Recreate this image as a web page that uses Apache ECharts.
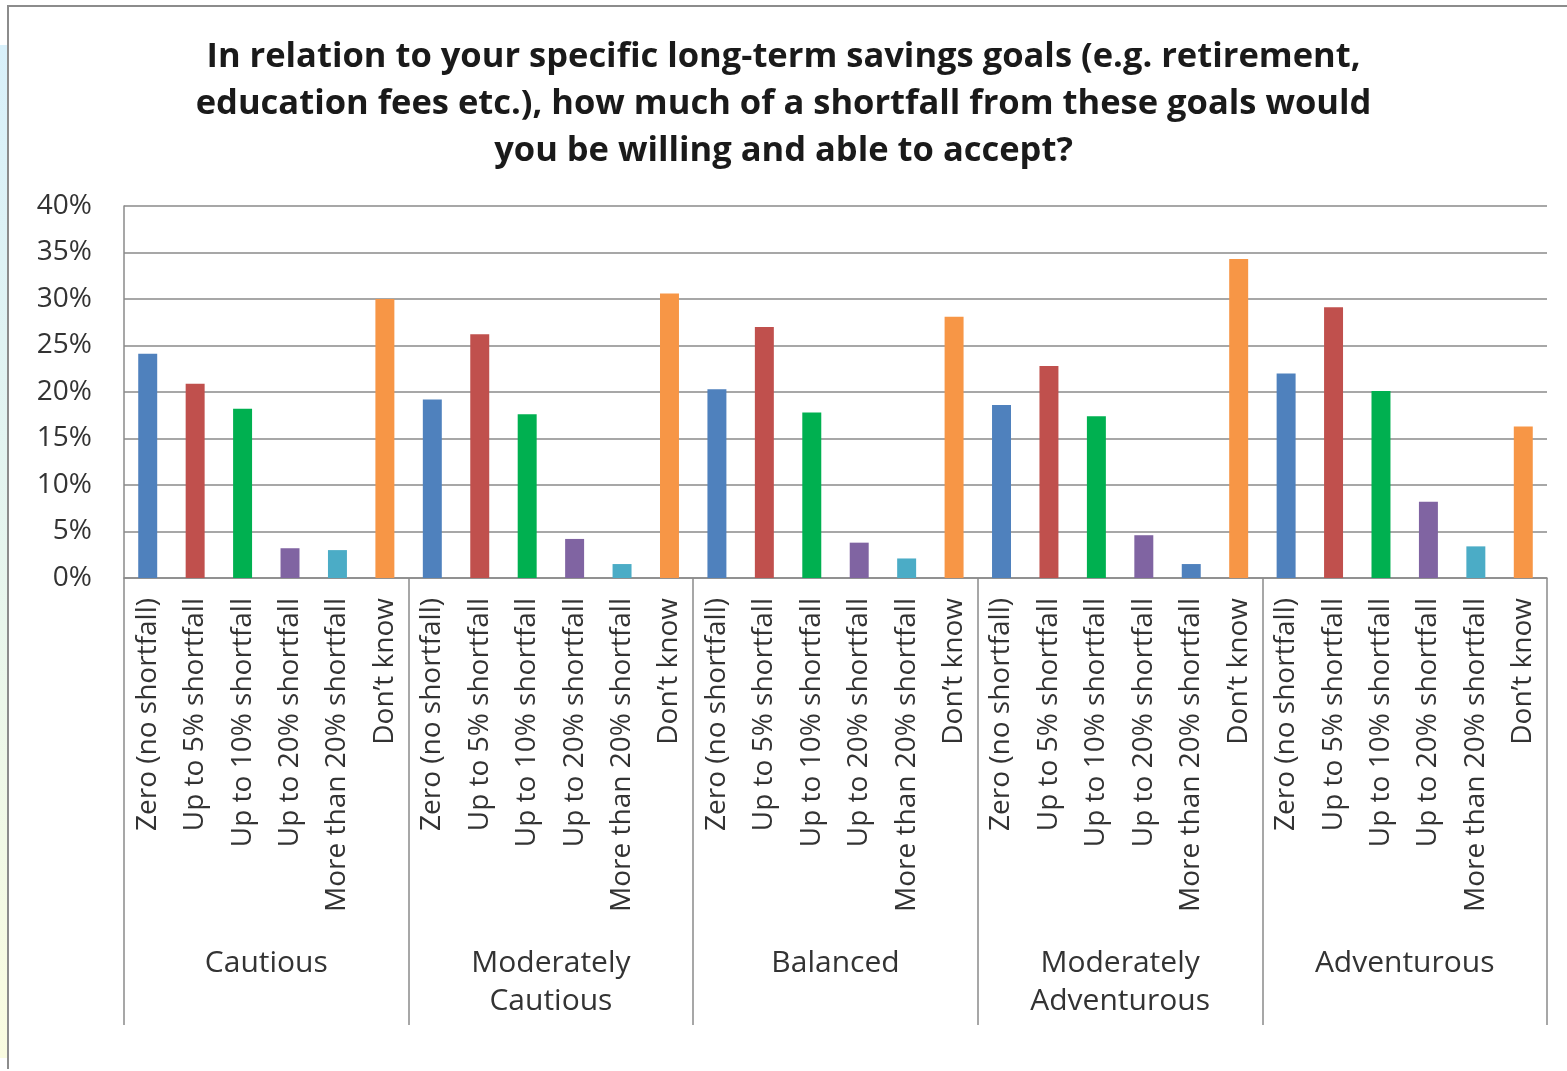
<!DOCTYPE html>
<html>
<head>
<meta charset="utf-8">
<title>Shortfall acceptance by risk profile</title>
<script src="https://cdn.jsdelivr.net/npm/echarts@6/dist/echarts.min.js"></script>
<style>
  html, body { margin: 0; padding: 0; background: #ffffff; }
  #chart { width: 1567px; height: 1071px; }
</style>
</head>
<body>
<div id="chart"></div>
<script>
// Risk profiles (outer category row)
const profiles = ['Cautious', 'Moderately\nCautious', 'Balanced', 'Moderately\nAdventurous', 'Adventurous'];

// Answer options (inner category row, repeated per profile)
const answers = [
  'Zero (no shortfall)',
  'Up to 5% shortfall',
  'Up to 10% shortfall',
  'Up to 20% shortfall',
  'More than 20% shortfall',
  'Don\u2019t know'
];

// Share of respondents (%) per profile, in the order of `answers`
const cautious        = [24.1, 20.9, 18.2, 3.2, 3.0, 30.0];
const modCautious     = [19.2, 26.2, 17.6, 4.2, 1.5, 30.6];
const balanced        = [20.3, 27.0, 17.8, 3.8, 2.1, 28.1];
const modAdventurous  = [18.6, 22.8, 17.4, 4.6, 1.5, 34.3];
const adventurous     = [22.0, 29.1, 20.1, 8.2, 3.4, 16.3];

// Y axis ticks
const yMin = 0, yMax = 40, yStep = 5;

const profileValues = [cautious, modCautious, balanced, modAdventurous, adventurous];

// Colours for the six answer options
const answerColors = ['#4F81BD', '#C0504D', '#00B050', '#8064A2', '#4BACC6', '#F79646'];

const categories = [];
const barData = [];
profileValues.forEach(function (vals, p) {
  vals.forEach(function (v, a) {
    categories.push(answers[a]);
    const item = { value: v, itemStyle: { color: answerColors[a] } };
    // this bar is drawn in the first series colour
    if (p === 3 && a === 4) item.itemStyle.color = '#4F81BD';
    barData.push(item);
  });
});

const chart = echarts.init(document.getElementById('chart'), null, { renderer: 'canvas' });

const gridLeft = 124, gridRight = 20, gridTop = 206, gridBottom = 493;
const font = 'Open Sans';

chart.setOption({
  backgroundColor: '#ffffff',
  animation: false,
  title: {
    text: 'In relation to your specific long-term savings goals (e.g. retirement,\neducation fees etc.), how much of a shortfall from these goals would\nyou be willing and able to accept?',
    left: 'center',
    top: 29,
    textStyle: {
      fontFamily: font,
      fontWeight: 'bold',
      fontSize: 34.5,
      lineHeight: 47,
      color: '#1a1a1a'
    }
  },
  grid: { left: gridLeft, right: gridRight, top: gridTop, bottom: gridBottom },
  xAxis: [
    {
      type: 'category',
      data: categories,
      position: 'bottom',
      axisLine: { show: true, lineStyle: { color: '#8a8a8a', width: 1.5 } },
      axisTick: { show: false },
      axisLabel: {
        interval: 0,
        rotate: 90,
        margin: 20,
        fontFamily: font,
        fontSize: 28,
        color: '#333333'
      }
    },
    {
      type: 'category',
      data: profiles,
      position: 'bottom',
      axisLine: { show: false },
      axisTick: { show: true, length: 447, lineStyle: { color: '#8a8a8a', width: 1.5 } },
      axisLabel: {
        interval: 0,
        margin: 366,
        fontFamily: font,
        fontSize: 30,
        lineHeight: 38,
        color: '#333333',
        verticalAlign: 'top'
      },
      splitLine: { show: false }
    }
  ],
  yAxis: {
    type: 'value',
    min: yMin,
    max: yMax,
    interval: yStep,
    axisLine: { show: true, lineStyle: { color: '#8a8a8a', width: 1.5 } },
    axisTick: { show: false },
    splitLine: { show: true, lineStyle: { color: '#8a8a8a', width: 1.5 } },
    axisLabel: {
      formatter: '{value}%',
      margin: 32,
      fontFamily: font,
      fontSize: 28,
      color: '#333333'
    }
  },
  series: [
    {
      type: 'bar',
      xAxisIndex: 0,
      data: barData,
      barWidth: '40%'
    }
  ],
  graphic: [
    // coloured strip along the left edge
    {
      type: 'rect',
      shape: { x: 0, y: 45, width: 7, height: 1013 },
      style: {
        fill: new echarts.graphic.LinearGradient(0, 0, 0, 1, [
          { offset: 0, color: '#d8f0fa' },
          { offset: 0.5, color: '#e6f5ee' },
          { offset: 1, color: '#fafce0' }
        ])
      },
      silent: true
    },
    // outer chart frame (left and top edges)
    {
      type: 'polyline',
      shape: { points: [[8, 1069], [8, 6], [1567, 6]] },
      style: { stroke: '#8c8c8c', lineWidth: 2, fill: null },
      silent: true
    }
  ]
});
</script>
</body>
</html>
